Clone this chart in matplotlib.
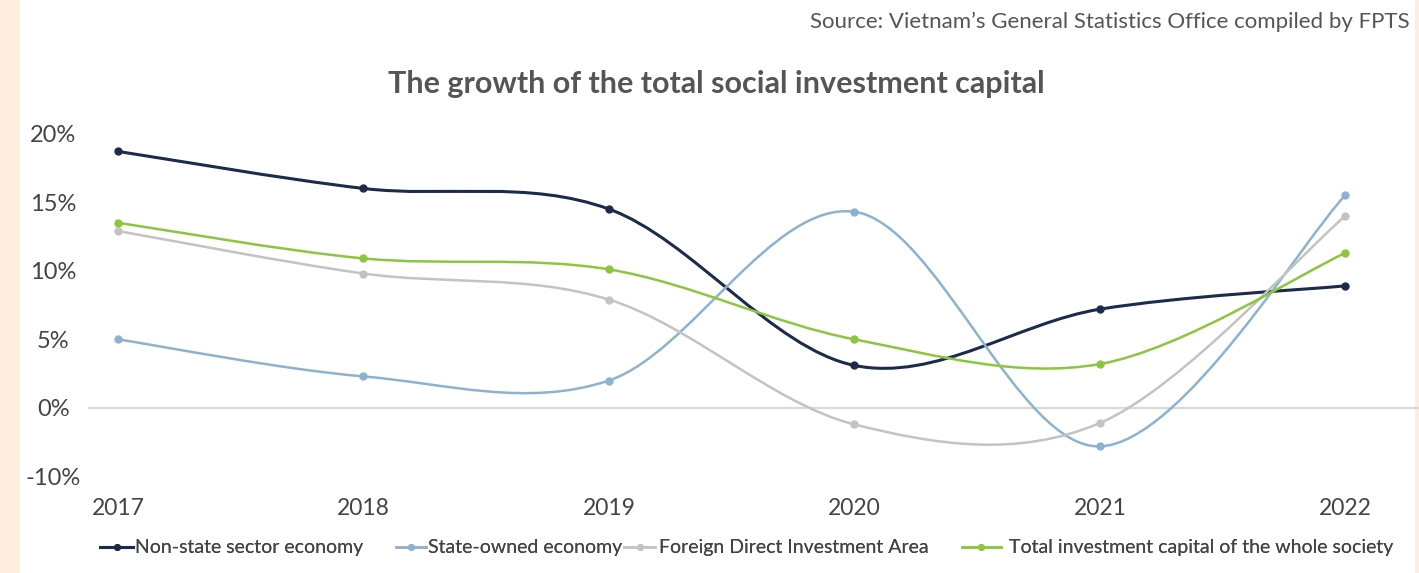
import matplotlib
matplotlib.use("Agg")
import matplotlib.pyplot as plt
from matplotlib.path import Path
from matplotlib.patches import PathPatch, Rectangle
from matplotlib.lines import Line2D

plt.rcParams['font.family'] = ['Lato', 'DejaVu Sans']

# ---- data ----
years = ["2017", "2018", "2019", "2020", "2021", "2022"]
non_state = [18.7, 16.0, 14.5, 3.1, 7.2, 8.9]
state_owned = [5.0, 2.3, 2.0, 14.3, -2.8, 15.5]
fdi = [12.9, 9.8, 7.9, -1.2, -1.1, 14.0]
total = [13.5, 10.9, 10.1, 5.0, 3.2, 11.3]

series_names = ["Non-state sector economy", "State-owned economy",
                "Foreign Direct Investment Area",
                "Total investment capital of the whole society"]
series_values = [non_state, state_owned, fdi, total]
series_colors = ["#1c2b4c", "#8db2cf", "#c3c3c3", "#8cc63f"]
series_widths = [2.2, 1.8, 1.8, 1.8]

ytick_pos = [20, 15, 10, 5, 0, -5]
ytick_labels = ["20%", "15%", "10%", "5%", "0%", "-10%"]

title = "The growth of the total social investment capital"
source = "Source: Vietnam\u2019s General Statistics Office compiled by FPTS"

W, H = 1419, 573
fig = plt.figure(figsize=(W / 100, H / 100), dpi=100)
fig.patch.set_facecolor("white")

# peach side strips
fig.add_artist(Rectangle((0, 0), 20 / W, 1, transform=fig.transFigure,
                         facecolor="#fdeee0", edgecolor="none", zorder=0))
fig.add_artist(Rectangle((1 - 4 / W, 0), 4 / W, 1, transform=fig.transFigure,
                         facecolor="#fdeee0", edgecolor="none", zorder=0))

ax_left, ax_right = 88, 1419
ax_top, ax_bottom = 120, 490
ax = fig.add_axes([ax_left / W, 1 - ax_bottom / H,
                   (ax_right - ax_left) / W, (ax_bottom - ax_top) / H])
ax.set_facecolor("none")

x = list(range(len(years)))
ax.set_xlim(-0.122, 5.30)
ax.set_ylim(-5.98, 20.99)


def smooth_path(xs, ys):
    """Cubic Bezier path through the points (Catmull-Rom style smoothing)."""
    n = len(xs)
    verts = [(xs[0], ys[0])]
    codes = [Path.MOVETO]
    for i in range(n - 1):
        i0 = max(i - 1, 0)
        i3 = min(i + 2, n - 1)
        c1 = (xs[i] + (xs[i + 1] - xs[i0]) / 6, ys[i] + (ys[i + 1] - ys[i0]) / 6)
        c2 = (xs[i + 1] - (xs[i3] - xs[i]) / 6, ys[i + 1] - (ys[i3] - ys[i]) / 6)
        verts += [c1, c2, (xs[i + 1], ys[i + 1])]
        codes += [Path.CURVE4] * 3
    return Path(verts, codes)


ax.axhline(0, color="#d9d9d9", lw=1.6, zorder=1)

handles = []
for name, vals, col, lw in zip(series_names, series_values, series_colors, series_widths):
    ax.add_patch(PathPatch(smooth_path(x, vals), facecolor="none", edgecolor=col,
                           lw=lw, zorder=3, capstyle="round"))
    ax.plot(x, vals, linestyle="none", marker="o", markersize=5, color=col, zorder=4)
    handles.append(Line2D([], [], color=col, lw=lw, marker="o", markersize=4))

for s in ax.spines.values():
    s.set_visible(False)

ax.set_xticks(x)
ax.set_xticklabels(years, fontsize=16.5, color="#444444")
ax.tick_params(axis="x", length=0, pad=6)
ax.set_yticks(ytick_pos)
ax.set_yticklabels(ytick_labels, fontsize=17, color="#444444", ha="center")
ax.tick_params(axis="y", length=0, pad=25)

fig.text(716 / W, 1 - 84 / H, title, fontsize=22, fontweight="bold",
         color="#555555", ha="center", va="center")
fig.text(1410 / W, 1 - 22 / H, source, fontsize=16, color="#555555",
         ha="right", va="center")

# one legend entry per series, spaced along the bottom
legend_x = [100, 396, 624, 962]
legend_hlen = [1.7, 1.55, 1.6, 2.0]
legend_pad = [0.1, 0.1, 0.2, 0.4]
for h, name, lx, hl, tp in zip(handles, series_names, legend_x, legend_hlen, legend_pad):
    leg = fig.legend([h], [name], loc="center left",
                     bbox_to_anchor=(lx / W, 1 - 548 / H), frameon=False,
                     fontsize=14, handlelength=hl, handletextpad=tp,
                     borderpad=0, borderaxespad=0, labelcolor="#444444")
    fig.add_artist(leg)

fig.savefig("out.png", dpi=100, facecolor="white")
